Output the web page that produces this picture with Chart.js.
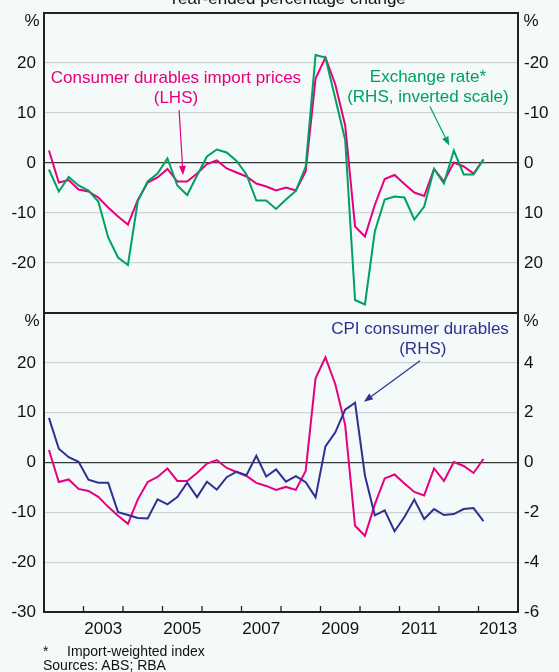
<!DOCTYPE html>
<html><head><meta charset="utf-8">
<script src="https://cdn.jsdelivr.net/npm/chart.js@4.4.1/dist/chart.umd.min.js"></script>
<style>
html,body{margin:0;padding:0;background:#f4f9f9;width:559px;height:672px;overflow:hidden;position:relative;}
canvas{position:absolute;left:0;}
#c1{top:0;}
#c2{top:300px;}
.fn{position:absolute;font:14px "Liberation Sans",Arial,sans-serif;color:#111;line-height:16px;white-space:nowrap;}
</style></head><body>
<canvas id="c1" width="559" height="316"></canvas>
<canvas id="c2" width="559" height="372"></canvas>
<div class="fn" style="left:43px;top:643px">*</div>
<div class="fn" style="left:67px;top:643px">Import-weighted index</div>
<div class="fn" style="left:43px;top:657px">Sources: ABS; RBA</div>
<script>
// ---- Data (quarterly, year-ended % change) ----
const quarters = ['2002Q1','2002Q2','2002Q3','2002Q4','2003Q1','2003Q2','2003Q3','2003Q4',
 '2004Q1','2004Q2','2004Q3','2004Q4','2005Q1','2005Q2','2005Q3','2005Q4',
 '2006Q1','2006Q2','2006Q3','2006Q4','2007Q1','2007Q2','2007Q3','2007Q4',
 '2008Q1','2008Q2','2008Q3','2008Q4','2009Q1','2009Q2','2009Q3','2009Q4',
 '2010Q1','2010Q2','2010Q3','2010Q4','2011Q1','2011Q2','2011Q3','2011Q4',
 '2012Q1','2012Q2','2012Q3','2012Q4','2013Q1'];
const importPrices = [2.5,-3.9,-3.4,-5.3,-5.7,-6.9,-8.9,-10.7,-12.3,-7.4,-3.9,-2.9,-1.2,-3.7,-3.7,-2.1,
 -0.2,0.5,-1.1,-1.9,-2.7,-4.1,-4.7,-5.5,-4.9,-5.5,-1.7,16.9,21.1,15.7,7.5,-12.7,-14.7,-8.4,-3.2,-2.4,
 -4.2,-5.9,-6.6,-1.2,-3.7,0.1,-0.7,-2.1,0.7];
const exchangeRate = [1.3,5.7,2.8,4.5,5.5,7.7,14.9,18.9,20.4,7.6,3.7,2.1,-0.9,4.5,6.4,2.5,
 -1.3,-2.7,-2.1,-0.4,2.3,7.5,7.5,9.2,7.3,5.6,0.7,-21.6,-21.1,-12.9,-4.6,27.4,28.3,13.7,7.3,6.7,
 6.9,11.3,8.7,1.2,4.1,-2.5,2.3,2.3,-0.7];
const cpiDurables = [1.79,0.55,0.21,0.03,-0.69,-0.81,-0.81,-1.99,-2.11,-2.23,-2.25,-1.48,-1.68,-1.39,-0.81,-1.39,
 -0.77,-1.09,-0.59,-0.37,-0.51,0.27,-0.56,-0.28,-0.77,-0.55,-0.79,-1.4,0.65,1.21,2.12,2.4,-0.52,-2.12,-1.92,-2.76,
 -2.19,-1.49,-2.27,-1.87,-2.11,-2.07,-1.87,-1.83,-2.35];
const topLeftTicks = [-20,-10,0,10,20];
const topRightTicks = [-20,-10,0,10,20];
const botLeftTicks = [-30,-20,-10,0,10,20];
const botRightTicks = [-6,-4,-2,0,2,4];
const yearLabels = [2003,2005,2007,2009,2011,2013];

// ---- Styling ----
const PINK='#e6007e', GREEN='#00a160', NAVY='#2e3192';
const FONT='"Liberation Sans", Arial, Helvetica, sans-serif';
const TXT='#111';

function qx(q){ const y=+q.slice(0,4), n=+q.slice(5); return y+(n-1)*0.25+0.125; }
const pts = arr => arr.map((v,i)=>({x:qx(quarters[i]), y:v}));

function noPad(s){ s.paddingTop=0; s.paddingBottom=0; s.paddingLeft=0; s.paddingRight=0; }

function yAxis(pos, ticks, min, max, reverse, onArea){
  return {
    type:'linear', position:pos, min:min, max:max, reverse:!!reverse,
    afterBuildTicks: s => { s.ticks = ticks.map(v=>({value:v})); },
    afterFit: s => { s.width = pos==='left' ? 44 : 41; noPad(s); },
    border:{display:false},
    grid:{ display:true, drawOnChartArea:onArea, drawTicks:false,
      color: c => (c.tick && c.tick.value===0) ? '#3a3a3a' : '#cfd4d4',
      lineWidth: 1.3 },
    ticks:{ font:{family:FONT,size:17}, color:TXT, padding: pos==='left'?8:6,
      callback: v => String(v) }
  };
}

const framePlugin = {
  id:'frame',
  afterDraw(chart){
    const {ctx, chartArea:a} = chart;
    ctx.save();
    ctx.strokeStyle='#222'; ctx.lineWidth=2;
    ctx.strokeRect(a.left, a.top, a.right-a.left, a.bottom-a.top);
    ctx.fillStyle=TXT; ctx.font='17px '+FONT; ctx.textAlign='center'; ctx.textBaseline='middle';
    ctx.fillText('%', a.left-12, a.top+8);
    ctx.fillText('%', a.right+13, a.top+8);
    const o = chart.options.plugins.frame || {};
    if (o.yearTicks){
      const xs = chart.scales.x;
      ctx.lineWidth=1.3; ctx.strokeStyle='#222';
      for (let yr=Math.ceil(xs.min)+1; yr<xs.max; yr++){
        const px = xs.getPixelForValue(yr);
        ctx.beginPath(); ctx.moveTo(px, a.bottom); ctx.lineTo(px, a.bottom-6); ctx.stroke();
      }
    }
    if (o.title){
      ctx.textBaseline='alphabetic';
      ctx.fillText(o.title, 287, 4);
    }
    (o.notes||[]).forEach(n=>{
      const xs=chart.scales.x, ys=chart.scales[n.axis];
      ctx.fillStyle=n.color; ctx.strokeStyle=n.color; ctx.textBaseline='middle'; ctx.textAlign='center';
      n.lines.forEach((t,i)=>{ ctx.fillText(t, xs.getPixelForValue(n.x[i]), ys.getPixelForValue(n.y[i])); });
      if (n.arrow){
        const x1=xs.getPixelForValue(n.arrow[0]), y1=ys.getPixelForValue(n.arrow[1]);
        const x2=xs.getPixelForValue(n.arrow[2]), y2=ys.getPixelForValue(n.arrow[3]);
        const ang=Math.atan2(y2-y1,x2-x1), L=9, W=3.5;
        ctx.lineWidth=1.2;
        ctx.beginPath(); ctx.moveTo(x1,y1);
        ctx.lineTo(x2-L*Math.cos(ang), y2-L*Math.sin(ang)); ctx.stroke();
        ctx.beginPath(); ctx.moveTo(x2,y2);
        ctx.lineTo(x2-L*Math.cos(ang)+W*Math.sin(ang), y2-L*Math.sin(ang)-W*Math.cos(ang));
        ctx.lineTo(x2-L*Math.cos(ang)-W*Math.sin(ang), y2-L*Math.sin(ang)+W*Math.cos(ang));
        ctx.closePath(); ctx.fill();
      }
    });
    ctx.restore();
  }
};

const lineDs = (label, data, color, axis) => ({label, data, borderColor:color, backgroundColor:color,
  borderWidth:2, pointRadius:0, tension:0, yAxisID:axis, fill:false});

const common = {
  responsive:false, animation:false, events:[],
  plugins:{legend:{display:false}, tooltip:{enabled:false}}
};

new Chart(document.getElementById('c1'), {
  type:'line',
  data:{ datasets:[
    lineDs('Exchange rate* (RHS, inverted scale)', pts(exchangeRate), GREEN, 'y2'),
    lineDs('Consumer durables import prices (LHS)', pts(importPrices), PINK, 'y')
  ]},
  options:Object.assign({}, common, {
    layout:{padding:{top:13,bottom:3,left:0,right:0}},
    scales:{
      x:{type:'linear', min:2002, max:2014, display:false},
      y:yAxis('left', topLeftTicks, -30, 30, false, true),
      y2:yAxis('right', topRightTicks, -30, 30, true, false)
    },
    plugins:{legend:{display:false}, tooltip:{enabled:false},
      frame:{ title:'Year-ended percentage change', notes:[
        {axis:'y', lines:['Consumer durables import prices','(LHS)'], x:[2005.34,2005.34], y:[17,13], color:PINK,
         arrow:[2005.42,10.6,2005.52,-2.4]},
        {axis:'y', lines:['Exchange rate*','(RHS, inverted scale)'], x:[2011.72,2011.72], y:[17.2,13.2], color:GREEN,
         arrow:[2011.77,11.3,2012.26,3.5]}
      ]}}
  }),
  plugins:[framePlugin]
});

new Chart(document.getElementById('c2'), {
  type:'line',
  data:{ datasets:[
    lineDs('CPI consumer durables (RHS)', pts(cpiDurables), NAVY, 'y2'),
    lineDs('Consumer durables import prices (LHS)', pts(importPrices), PINK, 'y')
  ]},
  options:Object.assign({}, common, {
    layout:{padding:{top:13,bottom:30,left:0,right:0}},
    scales:{
      x:{type:'linear', min:2002, max:2014,
        afterBuildTicks: s => { s.ticks = yearLabels.map(y=>({value:y+0.5})); },
        afterFit: s => { s.height = 30; noPad(s); },
        border:{display:false},
        grid:{display:false, drawTicks:false},
        ticks:{font:{family:FONT,size:17}, color:TXT, padding:7, autoSkip:false, maxRotation:0,
          callback: v => String(Math.floor(v))}
      },
      y:yAxis('left', botLeftTicks, -30, 30, false, true),
      y2:yAxis('right', botRightTicks, -6, 6, false, false)
    },
    plugins:{legend:{display:false}, tooltip:{enabled:false},
      frame:{ yearTicks:true, notes:[
        {axis:'y', lines:['CPI consumer durables','(RHS)'], x:[2011.52,2011.59], y:[26.8,22.8], color:NAVY,
         arrow:[2011.52,20.4,2010.10,12.2]}
      ]}}
  }),
  plugins:[framePlugin]
});
</script>
</body></html>
